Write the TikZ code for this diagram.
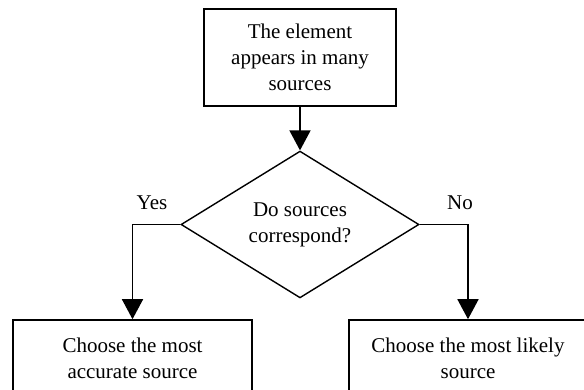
\documentclass[tikz,border=0pt]{standalone}
\usepackage{fontspec}
\setmainfont{Liberation Serif}
\usetikzlibrary{arrows.meta,shapes.geometric}
\begin{document}
\begin{tikzpicture}[x=1pt,y=-1pt,line width=1.6pt,
  every node/.style={font=\fontsize{21}{26}\selectfont, align=center, inner sep=0pt},
  box/.style={draw, rectangle, minimum height=97pt},
  decision/.style={draw, diamond, minimum width=238pt, minimum height=145pt, line width=1.4pt},
  arrow/.style={-{Triangle[length=20pt,width=21pt]}},
  lbl/.style={}]
\useasboundingbox (0,0) rectangle (584,390);
\clip (0,0) rectangle (584,390);
\node[box, minimum width=192pt] (top) at (300,57.5) {The element\\appears in many\\sources};
\node[decision] (dia) at (300,224.5) {Do sources\\correspond?};
\node[box, minimum width=239pt, minimum height=77pt] (L) at (132.5,358.5) {Choose the most\\accurate source};
\node[box, minimum width=280pt, minimum height=77pt] (R) at (489,358.5) {};
\node (Rt) at (468,358.5) {Choose the most likely\\source};
\draw[arrow] (top.south) -- (dia.north);
\draw[arrow] (dia.west) -| (L.north);
\draw[arrow] (dia.east) -| (Rt.center |- R.north);
\node[lbl] (yes) at (152,203) {Yes};
\node[lbl] (no) at (460,203) {No};
\end{tikzpicture}
\end{document}
